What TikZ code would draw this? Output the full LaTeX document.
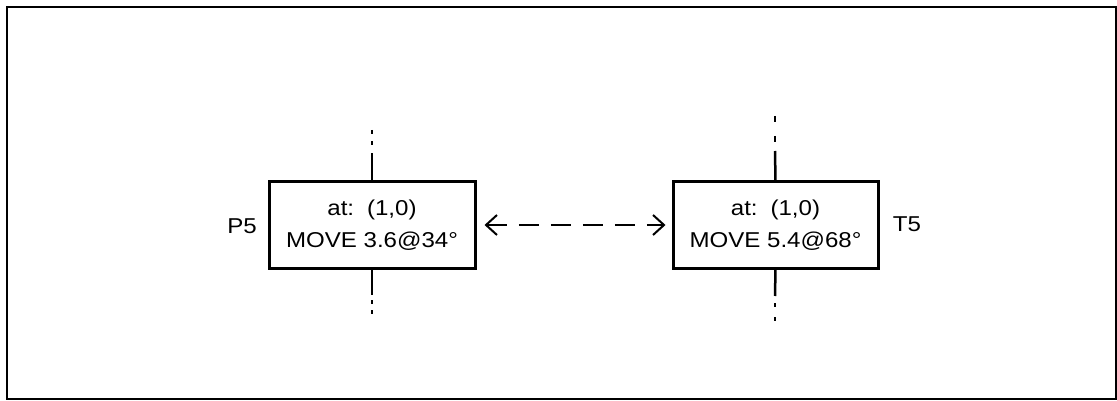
\documentclass[tikz,border=0pt]{standalone}
\usepackage{fontspec}
\newfontfamily\hv[FakeStretch=1.12]{Liberation Sans}
\usetikzlibrary{arrows.meta}
\begin{document}
\begin{tikzpicture}[x=1pt,y=-1pt,
  blk/.style={draw,line width=3pt,minimum height=86pt,inner sep=0pt,align=center,
    font=\hv\fontsize{21.5}{32}\selectfont},
  lbl/.style={font=\hv\fontsize{21.5}{26}\selectfont,inner sep=0pt},
  stub/.style={line width=2.5pt},
  dots/.style={line width=2.5pt},
  link/.style={line width=2.4pt,dash pattern=on 20pt off 12pt,
    {Straight Barb[length=11pt,width=20pt,line width=2pt]}-{Straight Barb[length=11pt,width=20pt,line width=2pt]}}
]
\useasboundingbox (0,0) rectangle (1117,401);
\draw[line width=2pt] (7,7) rectangle (1116,399);

\node[blk,minimum width=206pt] (p5) at (372,225) {at:\hspace{4pt} (1,0)\\MOVE 3.6@34°};
\node[blk,minimum width=205pt] (t5) at (775.5,225) {at:\hspace{4pt} (1,0)\\MOVE 5.4@68°};

\node[lbl] (p5l) at (242,226) {P5};
\node[lbl] (t5l) at (907,224) {T5};

\draw[link] ([xshift=8pt]p5.east) -- ([xshift=-6pt]t5.west);

% stubs of P5
\coordinate (p5u) at (372,153);
\coordinate (p5d) at (372,295);
\draw[stub] (p5.north) -- (p5u);
\draw[stub] (p5.south) -- (p5d);
\draw[dots] (372,130) -- (372,134);
\draw[dots] (372,141) -- (372,145);
\draw[dots] (372,300) -- (372,304);
\draw[dots] (372,310) -- (372,314);
% stubs of T5
\coordinate (t5u) at (775,151);
\coordinate (t5d) at (775,296);
\draw[stub] (t5.north) -- (t5u);
\draw[stub] (t5.south) -- (t5d);
\draw[dots] (775,116) -- (775,122);
\draw[dots] (775,136) -- (775,142);
\draw[dots] (775,303) -- (775,307);
\draw[dots] (775,317) -- (775,321);
\end{tikzpicture}
\end{document}
